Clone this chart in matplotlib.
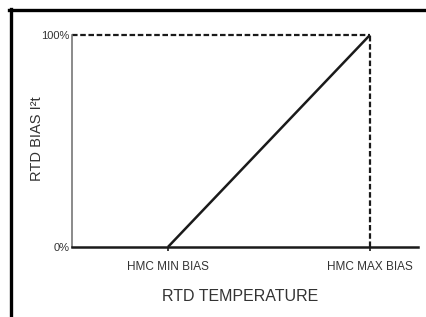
import matplotlib
matplotlib.use('Agg')
import matplotlib.pyplot as plt
from matplotlib.lines import Line2D

plt.rcParams['font.family'] = ['Liberation Sans', 'DejaVu Sans']

# data: bias rises linearly from min bias point to max bias point
temp_pts = [0, 1]
bias_pts = [0, 100]
tick_labels = ['HMC MIN BIAS', 'HMC MAX BIAS']
y_labels = ['0%', '100%']

fig = plt.figure(figsize=(4.26, 3.17), dpi=100)
fig.patch.set_facecolor('white')
ax = fig.add_axes([72/426, 1-247/317, (418-72)/426, (247-35)/317])

xmin, xmax = -0.475, 1.238
ax.plot(temp_pts, bias_pts, color='#1a1a1a', lw=1.8, solid_capstyle='butt', clip_on=False)
# dashed guide lines at 100% and at max bias
ax.plot([xmin, temp_pts[1]], [bias_pts[1], bias_pts[1]],
        color='#1a1a1a', lw=1.6, ls=(0, (2.5, 1.2)), clip_on=False)
ax.plot([temp_pts[1], temp_pts[1]], [0, bias_pts[1]],
        color='#1a1a1a', lw=1.6, ls=(0, (2.5, 1.2)), clip_on=False)

ax.set_xlim(xmin, xmax)
ax.set_ylim(0, 100)
ax.set_xticks(temp_pts)
ax.set_xticklabels(tick_labels, fontsize=8.5, color='#333333')
ax.set_yticks(bias_pts)
ax.set_yticklabels(y_labels, fontsize=8, color='#333333')
ax.tick_params(axis='x', length=3, width=1.2, color='#1a1a1a', pad=7)
ax.tick_params(axis='y', length=0, pad=2)

for s in ['top', 'right']:
    ax.spines[s].set_visible(False)
ax.spines['left'].set_color('#777777')
ax.spines['left'].set_linewidth(1.2)
ax.spines['bottom'].set_color('#1a1a1a')
ax.spines['bottom'].set_linewidth(1.8)
ax.set_facecolor('white')

ax.set_xlabel('RTD TEMPERATURE', fontsize=11.5, color='#333333')
ax.xaxis.set_label_coords((240-72)/346, -(289-247)/212)
ax.set_ylabel('RTD BIAS I²t', fontsize=10.5, color='#333333')
ax.yaxis.set_label_coords(-(72-44)/346, (247-139)/212)

# page frame lines (top and left)
fig.add_artist(Line2D([9/426, 1], [1-10/317, 1-10/317], color='black', lw=2.4, transform=fig.transFigure))
fig.add_artist(Line2D([10.5/426, 10.5/426], [0, 1-9/317], color='black', lw=2.4, transform=fig.transFigure))

fig.savefig('out.png', dpi=100)
